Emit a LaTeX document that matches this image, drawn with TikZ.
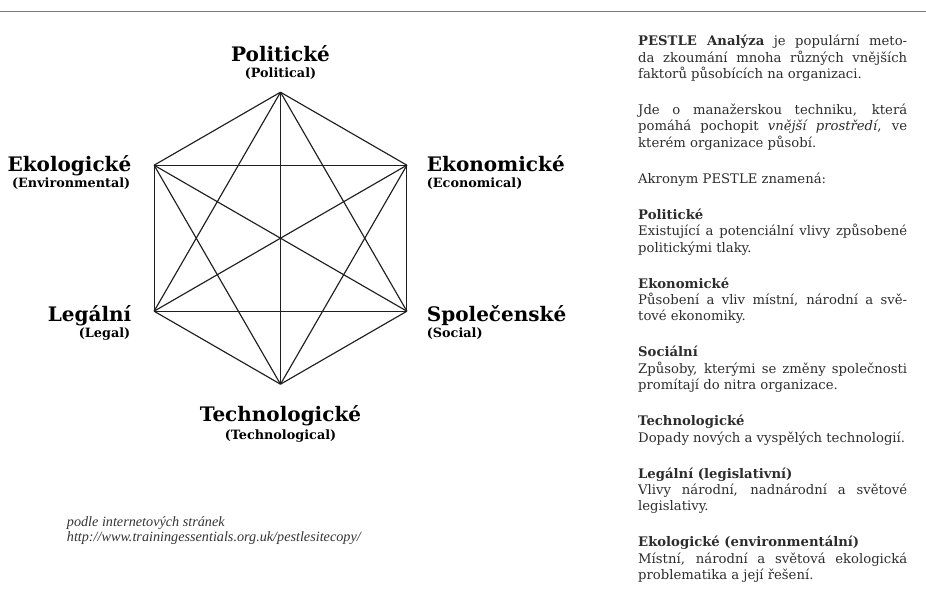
\documentclass[tikz,border=0pt]{standalone}
\usepackage{fontspec}
\setmainfont{DejaVu Serif}
\newfontfamily\citefont{Liberation Serif}
\definecolor{bodytext}{HTML}{2C2C2C}
\definecolor{rulegray}{HTML}{7A7A7A}
\definecolor{citegray}{HTML}{333333}
\begin{document}
\begin{tikzpicture}[x=1pt,y=-1pt,
  edge/.style={line width=1.15pt, draw=black!88},
  mainlabel/.style={font=\fontsize{20}{24}\selectfont\bfseries, inner sep=0pt},
  sublabel/.style={font=\fontsize{12.8}{15}\selectfont\bfseries, inner sep=0pt}]
\useasboundingbox (0,0) rectangle (926,608);
\coordinate (rl) at (0,11.5);
\coordinate (rr) at (926,11.5);
\draw[rulegray, line width=1.4pt] (rl) -- (rr);
% hexagon vertices
\coordinate (P)  at (280.5,92.2);
\coordinate (En) at (406.9,165.2);
\coordinate (S)  at (406.9,311.2);
\coordinate (T)  at (280.5,384.2);
\coordinate (L)  at (154.1,311.2);
\coordinate (El) at (154.1,165.2);
\foreach \a/\b in {P/En,P/S,P/T,P/L,P/El,En/S,En/T,En/L,En/El,S/T,S/L,S/El,T/L,T/El,L/El}
  \draw[edge] (\a) -- (\b);
% labels
\node[mainlabel, anchor=base] (pol) at (280.5,61.7) {Politické};
\node[sublabel, anchor=base] (pols) at (280.5,77.5) {(Political)};
\node[mainlabel, anchor=base east] (ekol) at (131.5,171.7) {Ekologické};
\node[sublabel, anchor=base east] (ekols) at (130.5,187.5) {(Environmental)};
\node[mainlabel, anchor=base west] (ekon) at (426.7,171.7) {Ekonomické};
\node[sublabel, anchor=base west] (ekons) at (426.7,187.5) {(Economical)};
\node[mainlabel, anchor=base east] (leg) at (131.5,321.2) {Legální};
\node[sublabel, anchor=base east] (legs) at (130.5,337.5) {(Legal)};
\node[mainlabel, anchor=base west] (spol) at (426.7,321.2) {Společenské};
\node[sublabel, anchor=base west] (spols) at (426.7,337.5) {(Social)};
\node[mainlabel, anchor=base] (tech) at (280.5,421.7) {Technologické};
\node[sublabel, anchor=base] (techs) at (280.5,439) {(Technological)};
% citation
\node[anchor=base west, inner sep=0pt, text=citegray, align=left,
  font=\citefont\itshape\fontsize{14.2}{14.8}\selectfont] (cite) at (66.7,541.7)
  {podle internetových stránek\\http://www.trainingessentials.org.uk/pestlesitecopy/};
% description
\node[anchor=base west, inner sep=0pt, text=bodytext] (desc) at (638,45.7) {\parbox[t]{269pt}{%
\fontsize{13.2}{16.4}\selectfont\setlength\parindent{0pt}\tolerance=10000\hbadness=10000
\textbf{PESTLE Analýza} je populární meto-\linebreak da zkoumání mnoha různých vnějších\linebreak faktorů působících na organizaci.\setlength\parskip{19.6pt}\par
Jde o manažerskou techniku, která\linebreak pomáhá pochopit \textit{vnější prostředí}, ve\linebreak kterém organizace působí.\par
Akronym PESTLE znamená:\par
\textbf{Politické}\\ Existující a potenciální vlivy způsobené\linebreak politickými tlaky.\par
\textbf{Ekonomické}\\ Působení a vliv místní, národní a svě-\linebreak tové ekonomiky.\par
\textbf{Sociální}\\ Způsoby, kterými se změny společnosti\linebreak promítají do nitra organizace.\par
\textbf{Technologické}\\ Dopady nových a vyspělých technologií.\par
\textbf{Legální (legislativní)}\\ Vlivy národní, nadnárodní a světové\linebreak legislativy.\par
\textbf{Ekologické (environmentální)}\\ Místní, národní a světová ekologická\linebreak problematika a její řešení.\par}};
\end{tikzpicture}
\end{document}
